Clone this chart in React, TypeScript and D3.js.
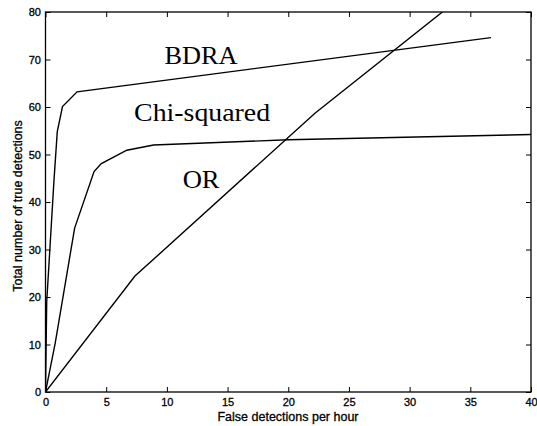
import { useEffect, useRef } from "react";
import * as d3 from "d3";

// Curves (x: false detections/hour, y: true detections)
const bdraX = [0, 0.1, 0.7, 0.97, 1.4, 2.6, 36.7];
const bdraY = [0, 19, 44.6, 54.8, 60.1, 63.2, 74.6];

const chiX = [0, 0.8, 2.4, 4.0, 4.6, 6.7, 8.9, 20, 40];
const chiY = [0, 10.3, 34.5, 46.4, 48.1, 50.9, 52, 53.1, 54.2];

const orX = [0, 7.37, 22.2, 32.7];
const orY = [0, 24.4, 58.7, 80];

const xTicks = [0, 5, 10, 15, 20, 25, 30, 35, 40];
const yTicks = [0, 10, 20, 30, 40, 50, 60, 70, 80];

const curveNames = ["BDRA", "Chi-squared", "OR"];
const labelX = [9.8, 7.3, 11.3];
const labelY = [69, 57.1, 43];

const App = () => {
    const ref = useRef<SVGSVGElement | null>(null);

    useEffect(() => {
        const svg = d3.select(ref.current);
        svg.selectAll("*").remove();

        const x = d3.scaleLinear().domain([0, 40]).range([45.5, 531]);
        const y = d3.scaleLinear().domain([0, 80]).range([392, 12]);

        const tickFont = "'Liberation Sans', Arial, sans-serif";

        // clip for curves
        svg.append("clipPath")
            .attr("id", "plot-clip")
            .append("rect")
            .attr("x", x(0))
            .attr("y", y(80))
            .attr("width", x(40) - x(0))
            .attr("height", y(0) - y(80));

        // axes with inward ticks (mirrored on all sides)
        const styleAxis = (g) => {
            g.select(".domain").remove();
            g.selectAll("line").attr("stroke", "#000").attr("stroke-width", 1);
            g.selectAll("text")
                .attr("fill", "#000")
                .attr("font-family", tickFont)
                .attr("font-size", "11px")
                .attr("stroke", "#000")
                .attr("stroke-width", 0.3);
        };

        svg.append("g")
            .attr("transform", `translate(0,${y(0)})`)
            .call(d3.axisBottom(x).tickValues(xTicks).tickSize(-5).tickPadding(6).tickFormat(d3.format("d")))
            .call(styleAxis);

        svg.append("g")
            .attr("transform", `translate(0,${y(80)})`)
            .call(d3.axisTop(x).tickValues(xTicks).tickSize(-5).tickFormat(() => ""))
            .call(styleAxis);

        svg.append("g")
            .attr("transform", `translate(${x(0)},0)`)
            .call(d3.axisLeft(y).tickValues(yTicks).tickSize(-5).tickPadding(4.5).tickFormat(d3.format("d")))
            .call(styleAxis);

        svg.append("g")
            .attr("transform", `translate(${x(40)},0)`)
            .call(d3.axisRight(y).tickValues(yTicks).tickSize(-5).tickFormat(() => ""))
            .call(styleAxis);

        // frame
        svg.append("rect")
            .attr("x", x(0))
            .attr("y", y(80))
            .attr("width", x(40) - x(0))
            .attr("height", y(0) - y(80))
            .attr("fill", "none")
            .attr("stroke", "#000")
            .attr("stroke-width", 1.3);

        const line = d3.line<[number, number]>()
            .x(d => x(d[0]))
            .y(d => y(d[1]));

        [[bdraX, bdraY], [chiX, chiY], [orX, orY]].forEach(([xs, ys]) => {
            svg.append("path")
                .datum(xs.map((v, i) => [v, ys[i]] as [number, number]))
                .attr("d", line)
                .attr("fill", "none")
                .attr("stroke", "#000")
                .attr("stroke-width", 1.4)
                .attr("clip-path", "url(#plot-clip)");
        });

        // curve labels
        const labelWidths = [73, 136, 37];
        curveNames.forEach((name, i) => {
            svg.append("text")
                .attr("x", x(labelX[i]))
                .attr("y", y(labelY[i]))
                .attr("font-family", "'Liberation Serif', 'Times New Roman', serif")
                .attr("font-size", "26px")
                .attr("textLength", labelWidths[i])
                .attr("lengthAdjust", "spacingAndGlyphs")
                .attr("fill", "#000")
                .text(name);
        });

        // axis titles
        svg.append("text")
            .attr("x", 288)
            .attr("y", 421)
            .attr("text-anchor", "middle")
            .attr("font-family", tickFont)
            .attr("font-size", "12.5px")
            .attr("stroke", "#000")
            .attr("stroke-width", 0.3)
            .attr("fill", "#000")
            .text("False detections per hour");

        svg.append("text")
            .attr("transform", "translate(22,206) rotate(-90)")
            .attr("text-anchor", "middle")
            .attr("font-family", tickFont)
            .attr("font-size", "12.5px")
            .attr("stroke", "#000")
            .attr("stroke-width", 0.3)
            .attr("fill", "#000")
            .text("Total number of true detections");
    }, []);

    return (
        <svg
            ref={ref}
            width={537}
            height={426}
            style={{ position: "absolute", left: 0, top: 0, background: "#fff" }}
        />
    );
};

export default App;
